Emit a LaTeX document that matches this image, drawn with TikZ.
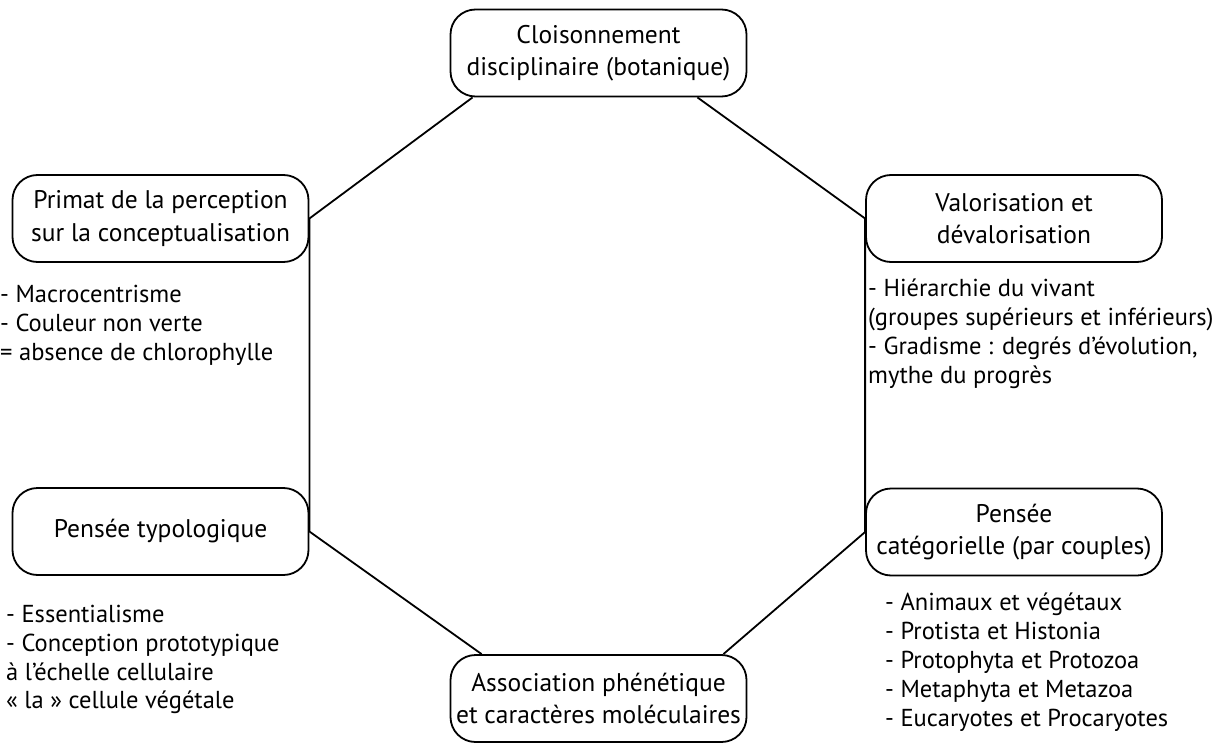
\documentclass[tikz,border=0pt]{standalone}
\usepackage{fontspec}
\setmainfont{PT Sans}
\usetikzlibrary{positioning,calc}

\begin{document}
\begin{tikzpicture}[x=1pt, y=-1pt,
  font=\fontsize{25.5}{32.5}\selectfont,
  box/.style={draw, line width=1.8pt, rounded corners=25pt, align=center, minimum width=296pt, minimum height=87pt, inner sep=2pt},
  notes/.style={align=left, inner sep=0pt, anchor=north west, font=\fontsize{24.5}{28.8}\selectfont},
  link/.style={line width=1.8pt}]
  \useasboundingbox (0,0) rectangle (1225,743);
  \node[box] (clois) at (598.5,53)  {Cloisonnement\\disciplinaire (botanique)};
  \node[box] (prim)  at (160.5,218.5) {Primat de la perception\\sur la conceptualisation};
  \node[box] (valo)  at (1014,218.5) {Valorisation et\\dévalorisation};
  \node[box] (typo)  at (160.5,531.5) {Pensée typologique};
  \node[box] (cate)  at (1014,532) {Pensée\\catégorielle (par couples)};
  \node[box] (asso)  at (598.5,698.5) {Association phénétique\\et caractères moléculaires};
  % listes sous les cadres
  \node[notes] (primL) at (0,285) {- Macrocentrisme\\- Couleur non verte\\= absence de chlorophylle};
  \node[notes] (valoL) at (868,279) {- Hiérarchie du vivant\\(groupes supérieurs et inférieurs)\\- Gradisme : degrés d’évolution,\\mythe du progrès};
  \node[notes] (typoL) at (6,605) {- Essentialisme\\- Conception prototypique\\à l’échelle cellulaire\\« la » cellule végétale};
  \node[notes] (cateL) at (885,593) {- Animaux et végétaux\\- Protista et Histonia\\- Protophyta et Protozoa\\- Metaphyta et Metazoa\\- Eucaryotes et Procaryotes};
  \draw[link] ($(clois.south west)+(23,0)$) -- (prim.east) -- (typo.east) -- ($(asso.north west)+(32,0)$);
  \draw[link] ($(asso.north east)+(-24,0)$) -- (cate.west) -- (valo.west) -- ($(clois.south east)+(-50,0)$);
\end{tikzpicture}
\end{document}
